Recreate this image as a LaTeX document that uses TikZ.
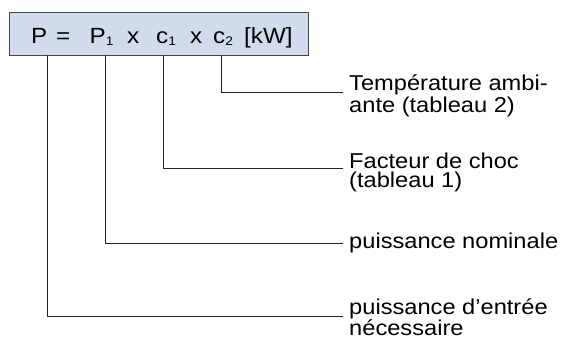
\documentclass[tikz,border=0pt]{standalone}
\usepackage{fontspec}
\setmainfont{Liberation Sans}[FakeStretch=1.1]
\definecolor{boxblue}{RGB}{208,220,238}
\definecolor{rulegray}{RGB}{70,70,70}
\definecolor{linegray}{RGB}{35,35,35}
\newcommand{\lowidx}[1]{\raisebox{-2pt}{\fontsize{12.5}{12.5}\selectfont #1}}
\tikzset{
  sym/.style={anchor=base west, inner sep=0pt, font=\fontsize{22}{19.5}\selectfont},
  lbl/.style={anchor=base west, inner sep=0pt, align=left, font=\fontsize{21.5}{19.5}\selectfont},
  conn/.style={draw=linegray, line width=0.9pt},
}

\begin{document}
\begin{tikzpicture}[x=1pt,y=-1pt]
\useasboundingbox (0,0) rectangle (563,340);
\node(box)[draw=rulegray, line width=1.1pt, fill=boxblue, inner sep=0pt,
  minimum width=299pt, minimum height=43pt, anchor=north west] at (9,12) {};
%
\node(P)[sym] at (31,43.5) {P};
\node(eq)[sym] at (56,43.5) {=};
\node(P1)[sym] at (89.5,43.5) {P\lowidx{1}};
\node(x1)[sym] at (127,43.5) {x};
\node(c1)[sym] at (156,43.5) {c\lowidx{1}};
\node(x2)[sym] at (190,43.5) {x};
\node(c2)[sym] at (213,43.5) {c\lowidx{2}};
\node(unit)[sym] at (244,43.5) {[kW]};
%
\coordinate(sP) at (47,55);
\coordinate(sP1) at (105,55);
\coordinate(sc1) at (163,55);
\coordinate(sc2) at (221,55);
%
% two-line labels: base anchor sits on the last line
\node(temp)[lbl] at (349,112) {Température ambi-\\ante (tableau 2)};
\draw[conn](sc2) |- ([xshift=-6pt,yshift=19.5pt]temp.base west);
%
\node(choc)[lbl] at (349,187.5) {Facteur de choc\\(tableau 1)};
\draw[conn](sc1) |- ([xshift=-6pt,yshift=19.5pt]choc.base west);
%
\node(nom)[lbl] at (349,248.5) {puissance nominale};
\draw[conn](sP1) |- ([xshift=-6pt,yshift=5.5pt]nom.base west);
%
\node(need)[lbl] at (349,335.5) {puissance d’entrée\\nécessaire};
\draw[conn](sP) |- ([xshift=-6pt,yshift=19.5pt]need.base west);
\end{tikzpicture}
\end{document}
